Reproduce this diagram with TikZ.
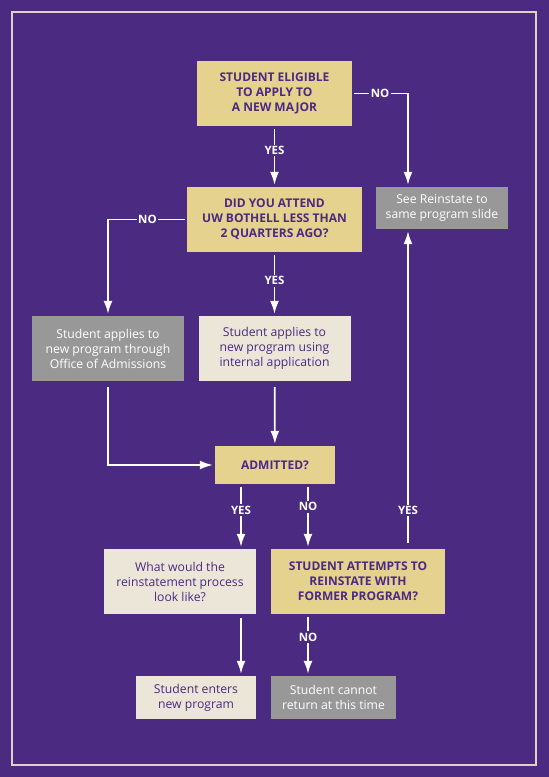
\documentclass[tikz,border=0pt]{standalone}
\usepackage{fontspec}
\setmainfont{Open Sans}
\usetikzlibrary{arrows.meta, positioning}
\definecolor{UWPurple}{HTML}{4B2A82}
\definecolor{BoxGold}{HTML}{E6D28F}
\definecolor{BoxGray}{HTML}{989898}
\definecolor{BoxBeige}{HTML}{ECE6D9}
\definecolor{FrameLine}{HTML}{E3CFC8}
\tikzset{
  >={Latex[length=13,width=9]},  % punte bianche piene
  % Riquadri del diagramma
  box/.style={rectangle,inner sep=2,align=center,font=\fontsize{12.2}{15}\selectfont},
  box gold/.style={box,fill=BoxGold,text=UWPurple,font=\bfseries\fontsize{12}{15}\selectfont},
  box beige/.style={box,fill=BoxBeige,text=UWPurple},
  box gray/.style={box,fill=BoxGray,text=white},
  % Connessioni
  flow/.style={->,white,line width=1.7,shorten <=3,shorten >=2},
  flow label/.style={fill=UWPurple,text=white,inner sep=1.5,font=\bfseries\fontsize{11.5}{13}\selectfont}
}
\begin{document}
\begin{tikzpicture}[x=1pt,y=-1pt]
  \fill[UWPurple] (0,0) rectangle (549,777);
  \useasboundingbox (0,0) rectangle (549,777);
  \draw[FrameLine,line width=2] (12,12) rectangle (536,765);

  % riquadri
  \node[box gold,minimum width=155,minimum height=65] (elig) at (274.5,93.5)
    {STUDENT ELIGIBLE\\TO APPLY TO\\A NEW MAJOR};
  \node[box gold,minimum width=175,minimum height=65] (attend) at (274.5,219.5)
    {DID YOU ATTEND\\UW BOTHELL LESS THAN\\2 QUARTERS AGO?};
  \node[box gray,minimum width=132,minimum height=42] (reinst) at (442,208)
    {See Reinstate to\\same program slide};
  \node[box gray,minimum width=152,minimum height=65] (office) at (108,348.5)
    {Student applies to\\new program through\\Office of Admissions};
  \node[box beige,minimum width=152,minimum height=65] (internal) at (274.5,348.5)
    {Student applies to\\new program using\\internal application};
  \node[box gold,minimum width=120,minimum height=38] (admit) at (275,465)
    {ADMITTED?};
  \node[box beige,minimum width=152,minimum height=65] (process) at (180,581.5)
    {What would the\\reinstatement process\\look like?};
  \node[box gold,minimum width=174,minimum height=65] (attempt) at (358,581.5)
    {STUDENT ATTEMPTS TO\\REINSTATE WITH\\FORMER PROGRAM?};
  \node[box beige,minimum width=120,minimum height=43] (enters) at (196,697.5)
    {Student enters\\new program};
  \node[box gray,minimum width=125,minimum height=43] (cannot) at (333.5,697.5)
    {Student cannot\\return at this time};

  % frecce
  \draw[flow] (elig) -- node[flow label,pos=0.4]{YES} (attend);
  \draw[flow,shorten <=2] (elig.east) -| node[flow label,pos=0.25]{NO} ([xshift=-34]reinst.north);
  \draw[flow,shorten <=2] (attend.west) -| node[flow label,pos=0.25]{NO} (office.north);
  \draw[flow] (attend) -- node[flow label,pos=0.45]{YES} (internal);
  \draw[flow,shorten <=6] (office.south) |- (admit.west);
  \draw[flow,shorten <=6] (internal) -- (admit);
  \draw[flow] ([xshift=-34]admit.south) -- node[flow label,pos=0.4]{YES} ([xshift=61]process.north);
  \draw[flow] ([xshift=33]admit.south) -- node[flow label,pos=0.35]{NO} ([xshift=-50]attempt.north);
  \draw[flow,shorten <=6] ([xshift=50]attempt.north) -- node[flow label,pos=0.12]{YES} ([xshift=-34]reinst.south);
  \draw[flow,shorten <=4] ([xshift=61]process.south) -- ([xshift=45]enters.north);
  \draw[flow] ([xshift=-50]attempt.south) -- node[flow label,pos=0.37]{NO} ([xshift=-25.5]cannot.north);
\end{tikzpicture}
\end{document}
